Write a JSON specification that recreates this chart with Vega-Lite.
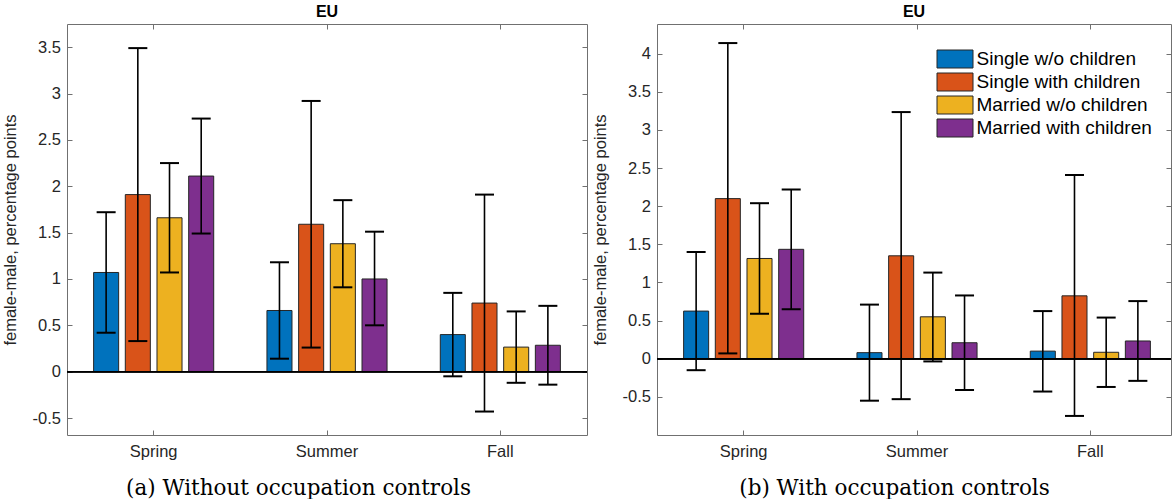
{
  "$schema": "https://vega.github.io/schema/vega-lite/v6.json",
  "background": "white",
  "padding": {"left": 1, "top": 3, "right": 0, "bottom": 0},
  "spacing": 3,
  "config": {
    "font": "Liberation Sans",
    "view": {"stroke": "#707070", "strokeWidth": 1},
    "axis": {"labelFont": "Liberation Sans", "labelFontSize": 16.5, "labelColor": "#262626", "tickColor": "#707070", "tickWidth": 1, "domain": false, "grid": false, "titleFont": "Liberation Sans", "titleFontSize": 16.5, "titleFontWeight": "normal", "titleColor": "#262626"},
    "title": {"font": "Liberation Sans", "fontSize": 16, "fontWeight": "bold", "color": "#000000", "offset": 3.5}
  },
  "datasets": {
    "a": [
      {"season": "Spring", "group": "Single w/o children", "est": 1.07, "lo": 0.42, "hi": 1.72},
      {"season": "Spring", "group": "Single with children", "est": 1.91, "lo": 0.33, "hi": 3.49},
      {"season": "Spring", "group": "Married w/o children", "est": 1.66, "lo": 1.07, "hi": 2.25},
      {"season": "Spring", "group": "Married with children", "est": 2.11, "lo": 1.49, "hi": 2.73},
      {"season": "Summer", "group": "Single w/o children", "est": 0.66, "lo": 0.14, "hi": 1.18},
      {"season": "Summer", "group": "Single with children", "est": 1.59, "lo": 0.26, "hi": 2.92},
      {"season": "Summer", "group": "Married w/o children", "est": 1.38, "lo": 0.91, "hi": 1.85},
      {"season": "Summer", "group": "Married with children", "est": 1.0, "lo": 0.5, "hi": 1.51},
      {"season": "Fall", "group": "Single w/o children", "est": 0.4, "lo": -0.05, "hi": 0.85},
      {"season": "Fall", "group": "Single with children", "est": 0.74, "lo": -0.43, "hi": 1.91},
      {"season": "Fall", "group": "Married w/o children", "est": 0.265, "lo": -0.12, "hi": 0.65},
      {"season": "Fall", "group": "Married with children", "est": 0.285, "lo": -0.14, "hi": 0.71}
    ],
    "b": [
      {"season": "Spring", "group": "Single w/o children", "est": 0.625, "lo": -0.15, "hi": 1.4},
      {"season": "Spring", "group": "Single with children", "est": 2.1, "lo": 0.07, "hi": 4.14},
      {"season": "Spring", "group": "Married w/o children", "est": 1.315, "lo": 0.59, "hi": 2.04},
      {"season": "Spring", "group": "Married with children", "est": 1.435, "lo": 0.65, "hi": 2.22},
      {"season": "Summer", "group": "Single w/o children", "est": 0.08, "lo": -0.55, "hi": 0.71},
      {"season": "Summer", "group": "Single with children", "est": 1.35, "lo": -0.53, "hi": 3.235},
      {"season": "Summer", "group": "Married w/o children", "est": 0.55, "lo": -0.035, "hi": 1.13},
      {"season": "Summer", "group": "Married with children", "est": 0.21, "lo": -0.41, "hi": 0.83},
      {"season": "Fall", "group": "Single w/o children", "est": 0.1, "lo": -0.43, "hi": 0.625},
      {"season": "Fall", "group": "Single with children", "est": 0.825, "lo": -0.75, "hi": 2.41},
      {"season": "Fall", "group": "Married w/o children", "est": 0.085, "lo": -0.37, "hi": 0.54},
      {"season": "Fall", "group": "Married with children", "est": 0.233, "lo": -0.29, "hi": 0.756}
    ]
  },
  "resolve": {"scale": {"color": "independent"}, "legend": {"color": "independent"}},
  "hconcat": [
    {
      "title": "EU",
      "width": 520,
      "height": 411,
      "data": {"name": "a"},
      "layer": [
        {
          "mark": {"type": "bar", "stroke": "#262626", "strokeWidth": 1},
          "encoding": {
            "x": {"field": "season", "type": "nominal", "sort": ["Spring", "Summer", "Fall"], "scale": {"paddingInner": 0, "paddingOuter": 0},
              "axis": {"orient": "bottom", "labelAngle": 0, "tickSize": -5, "labelPadding": 13, "title": "(a) Without occupation controls", "titleFont": "DejaVu Serif", "titleFontSize": 21.5, "titleColor": "#000000", "titlePadding": 17.5, "titleX": 231}},
            "xOffset": {"field": "group", "type": "nominal", "sort": ["Single w/o children", "Single with children", "Married w/o children", "Married with children"], "scale": {"paddingInner": 0.21, "paddingOuter": 0.84}},
            "y": {"field": "est", "type": "quantitative", "scale": {"domain": [-0.683, 3.75], "nice": false, "zero": false},
              "axis": {"orient": "left", "tickSize": -5, "labelPadding": 11.5, "values": [-0.5, 0, 0.5, 1, 1.5, 2, 2.5, 3, 3.5], "labelExpr": "'' + datum.value", "title": "female-male, percentage points", "titlePadding": 14}},
            "color": {"field": "group", "type": "nominal", "scale": {"domain": ["Single w/o children", "Single with children", "Married w/o children", "Married with children"], "range": ["#0072BD", "#D95319", "#EDB120", "#7E2F8E"]}, "legend": null}
          }
        },
        {
          "mark": {"type": "rule", "color": "#000000", "strokeWidth": 1.6},
          "encoding": {
            "x": {"field": "season", "type": "nominal", "sort": ["Spring", "Summer", "Fall"], "axis": null},
            "xOffset": {"field": "group", "type": "nominal", "sort": ["Single w/o children", "Single with children", "Married w/o children", "Married with children"]},
            "y": {"field": "lo", "type": "quantitative", "axis": null},
            "y2": {"field": "hi"}
          }
        },
        {
          "mark": {"type": "tick", "color": "#000000", "size": 19, "thickness": 2, "opacity": 1},
          "encoding": {
            "x": {"field": "season", "type": "nominal", "sort": ["Spring", "Summer", "Fall"], "axis": null},
            "xOffset": {"field": "group", "type": "nominal", "sort": ["Single w/o children", "Single with children", "Married w/o children", "Married with children"]},
            "y": {"field": "lo", "type": "quantitative", "axis": null}
          }
        },
        {
          "mark": {"type": "tick", "color": "#000000", "size": 19, "thickness": 2, "opacity": 1},
          "encoding": {
            "x": {"field": "season", "type": "nominal", "sort": ["Spring", "Summer", "Fall"], "axis": {"orient": "top", "tickSize": -5, "labels": false, "title": null}},
            "xOffset": {"field": "group", "type": "nominal", "sort": ["Single w/o children", "Single with children", "Married w/o children", "Married with children"]},
            "y": {"field": "hi", "type": "quantitative", "axis": {"orient": "right", "tickSize": -5, "labels": false, "title": null, "values": [-0.5, 0, 0.5, 1, 1.5, 2, 2.5, 3, 3.5]}}
          }
        },
        {
          "mark": {"type": "rule", "color": "#000000", "strokeWidth": 1},
          "encoding": {"y": {"datum": 0, "type": "quantitative", "axis": null}}
        }
      ],
      "resolve": {"axis": {"x": "independent", "y": "independent"}}
    },
    {
      "title": "EU",
      "width": 514,
      "height": 411,
      "data": {"name": "b"},
      "layer": [
        {
          "mark": {"type": "bar", "stroke": "#262626", "strokeWidth": 1},
          "encoding": {
            "x": {"field": "season", "type": "nominal", "sort": ["Spring", "Summer", "Fall"], "scale": {"paddingInner": 0, "paddingOuter": 0, "range": [0, 520]},
              "axis": {"orient": "bottom", "labelAngle": 0, "tickSize": -5, "labelPadding": 13, "title": "(b) With occupation controls", "titleFont": "DejaVu Serif", "titleFontSize": 21.5, "titleColor": "#000000", "titlePadding": 17.5, "titleX": 237}},
            "xOffset": {"field": "group", "type": "nominal", "sort": ["Single w/o children", "Single with children", "Married w/o children", "Married with children"], "scale": {"paddingInner": 0.21, "paddingOuter": 0.84}},
            "y": {"field": "est", "type": "quantitative", "scale": {"domain": [-1.0, 4.39], "nice": false, "zero": false},
              "axis": {"orient": "left", "tickSize": -5, "labelPadding": 11.5, "values": [-0.5, 0, 0.5, 1, 1.5, 2, 2.5, 3, 3.5, 4], "labelExpr": "'' + datum.value", "title": "female-male, percentage points", "titlePadding": 14}},
            "color": {"field": "group", "type": "nominal", "scale": {"domain": ["Single w/o children", "Single with children", "Married w/o children", "Married with children"], "range": ["#0072BD", "#D95319", "#EDB120", "#7E2F8E"]},
              "legend": {"orient": "none", "legendX": 279.5, "legendY": 25.5, "title": null, "padding": 0, "symbolType": "M-2,-1H2V1H-2Z", "symbolSize": 324, "symbolOffset": 9, "symbolOpacity": 1, "symbolStrokeColor": "#262626", "symbolStrokeWidth": 1, "labelFont": "Liberation Sans", "labelFontSize": 19, "labelColor": "#000000", "labelOffset": 12, "labelLimit": 400, "rowPadding": 0,
                "encode": {"symbols": {"update": {"stroke": {"value": "#262626"}, "strokeWidth": {"value": 1}, "opacity": {"value": 1}}}}}}
          }
        },
        {
          "mark": {"type": "rule", "color": "#000000", "strokeWidth": 1.6},
          "encoding": {
            "x": {"field": "season", "type": "nominal", "sort": ["Spring", "Summer", "Fall"], "axis": null},
            "xOffset": {"field": "group", "type": "nominal", "sort": ["Single w/o children", "Single with children", "Married w/o children", "Married with children"]},
            "y": {"field": "lo", "type": "quantitative", "axis": null},
            "y2": {"field": "hi"}
          }
        },
        {
          "mark": {"type": "tick", "color": "#000000", "size": 19, "thickness": 2, "opacity": 1},
          "encoding": {
            "x": {"field": "season", "type": "nominal", "sort": ["Spring", "Summer", "Fall"], "axis": null},
            "xOffset": {"field": "group", "type": "nominal", "sort": ["Single w/o children", "Single with children", "Married w/o children", "Married with children"]},
            "y": {"field": "lo", "type": "quantitative", "axis": null}
          }
        },
        {
          "mark": {"type": "tick", "color": "#000000", "size": 19, "thickness": 2, "opacity": 1},
          "encoding": {
            "x": {"field": "season", "type": "nominal", "sort": ["Spring", "Summer", "Fall"], "axis": {"orient": "top", "tickSize": -5, "labels": false, "title": null}},
            "xOffset": {"field": "group", "type": "nominal", "sort": ["Single w/o children", "Single with children", "Married w/o children", "Married with children"]},
            "y": {"field": "hi", "type": "quantitative", "axis": {"orient": "right", "tickSize": -5, "labels": false, "title": null, "values": [-0.5, 0, 0.5, 1, 1.5, 2, 2.5, 3, 3.5, 4]}}
          }
        },
        {
          "mark": {"type": "rule", "color": "#000000", "strokeWidth": 1},
          "encoding": {"y": {"datum": 0, "type": "quantitative", "axis": null}}
        }
      ],
      "resolve": {"axis": {"x": "independent", "y": "independent"}}
    }
  ]
}
